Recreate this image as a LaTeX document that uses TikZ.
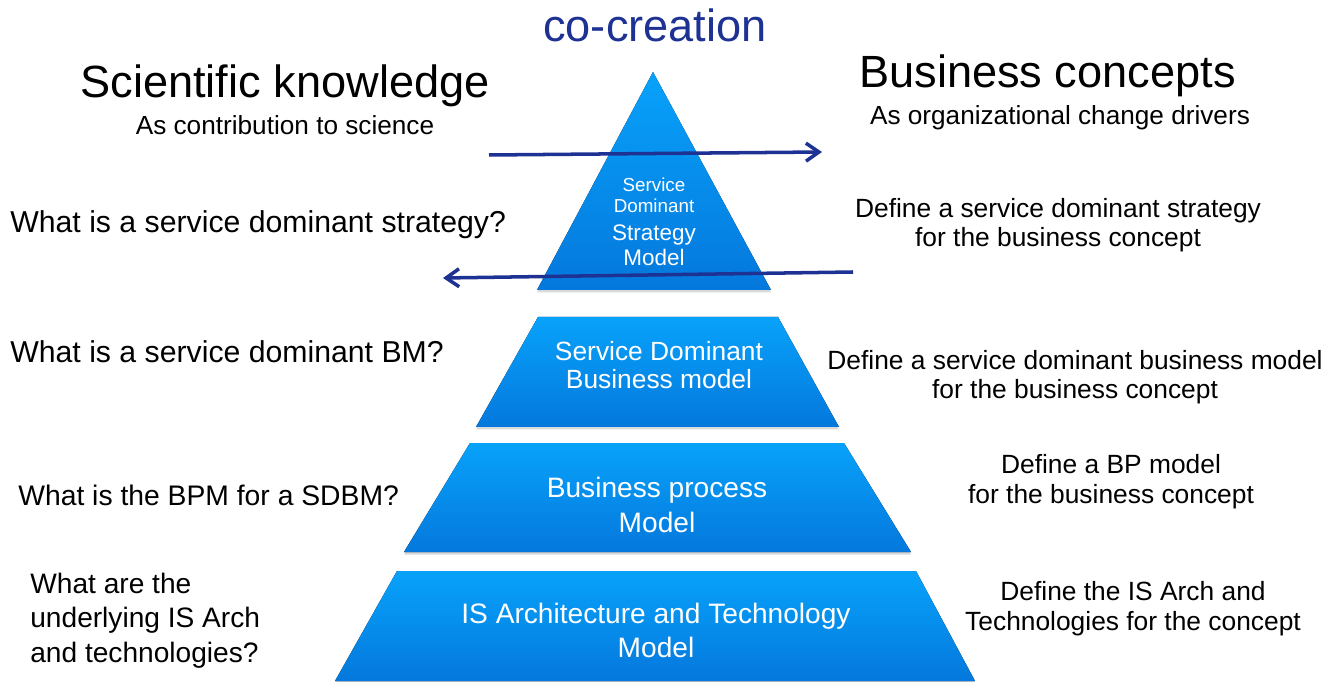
\documentclass[tikz,border=0pt]{standalone}
\usepackage{fontspec}
\setmainfont{Liberation Sans}
\usetikzlibrary{arrows.meta,shadows}

\definecolor{navy}{RGB}{30,50,148}
\definecolor{layertop}{RGB}{8,162,251}
\definecolor{layerbot}{RGB}{4,120,220}

\begin{document}
\begin{tikzpicture}[
  layer/.style={top color=layertop,bottom color=layerbot,draw=none,
    drop shadow={shadow xshift=0pt,shadow yshift=-0.05cm,opacity=0.3}},
  layertext/.style={text=white,align=center,anchor=base},
  flow/.style={navy,line width=2pt,-{Straight Barb[length=0.26cm,width=0.36cm]}},
  question/.style={anchor=base west,align=left,inner sep=0pt},
  answer/.style={anchor=base,align=center,font=\fontsize{15}{17}\selectfont},
]
\useasboundingbox (0,0) rectangle (26.76,13.62);

% Titles
\node[anchor=base,navy,font=\fontsize{25.7}{30}\selectfont] (cocreation) at (13.10,12.78) {co-creation};
\node[anchor=base,font=\fontsize{25.7}{30}\selectfont] (science) at (5.70,11.66) {Scientific knowledge};
\node[anchor=base,font=\fontsize{14.9}{17}\selectfont] (sciencesub) at (5.70,10.92) {As contribution to science};
\node[anchor=base,font=\fontsize{25.7}{30}\selectfont] (business) at (20.95,11.86) {Business concepts};
\node[anchor=base,font=\fontsize{14.9}{17}\selectfont] (businesssub) at (21.20,11.12) {As organizational change drivers};

% Pyramid layers
\fill[layer] (13.06,12.18) -- (15.42,7.82) -- (10.74,7.82) -- cycle;
\fill[layer] (10.76,7.28) -- (15.56,7.28) -- (16.78,5.08) -- (9.52,5.08) -- cycle;
\fill[layer] (9.40,4.76) -- (16.88,4.76) -- (18.22,2.58) -- (8.08,2.58) -- cycle;
\fill[layer] (7.94,2.20) -- (18.32,2.20) -- (19.50,0) -- (6.70,0) -- cycle;

% Layer labels (base = last line)
\node[layertext,font=\fontsize{10.7}{12.5}\selectfont] (strategyup) at (13.08,9.36) {Service\\Dominant};
\node[layertext,font=\fontsize{12.8}{14.7}\selectfont] (strategylow) at (13.08,8.30) {Strategy\\Model};
\node[layertext,font=\fontsize{15}{16.4}\selectfont] (sdbm) at (13.18,5.84) {Service Dominant\\Business model};
\node[layertext,font=\fontsize{16}{19.8}\selectfont] (bpm) at (13.14,2.98) {Business process\\Model};
\node[layertext,font=\fontsize{16}{19.3}\selectfont] (isarch) at (13.12,0.48) {IS Architecture and Technology\\Model};

% Exchange arrows
\coordinate (sciencestart) at (9.78,10.52);
\coordinate (businessend) at (16.44,10.58);
\coordinate (businessstart) at (17.06,8.18);
\coordinate (scienceend) at (8.86,8.06);
\draw[flow] (sciencestart) -- (businessend);
\draw[flow] (businessstart) -- (scienceend);

% Questions
\node[question,font=\fontsize{17.2}{20}\selectfont] (qstrategy) at (0.20,8.96) {What is a service dominant strategy?};
\node[question,font=\fontsize{17.2}{20}\selectfont] (qbm) at (0.20,6.36) {What is a service dominant BM?};
\node[question,font=\fontsize{16.1}{19}\selectfont] (qbpm) at (0.36,3.52) {What is the BPM for a SDBM?};
\node[question,font=\fontsize{16}{19.6}\selectfont] (qis) at (0.60,0.38) {What are the\\underlying IS Arch\\and technologies?};

% Answers
\node[answer] (astrategy) at (21.16,8.68) {Define a service dominant strategy\\for the business concept};
\node[answer] (abm) at (21.50,5.64) {Define a service dominant business model\\for the business concept};
\node[answer] (abpm) at (22.22,3.56) {Define a BP model\\for the business concept};
\node[answer] (ais) at (22.66,1.02) {Define the IS Arch and\\Technologies for the concept};
\end{tikzpicture}
\end{document}
